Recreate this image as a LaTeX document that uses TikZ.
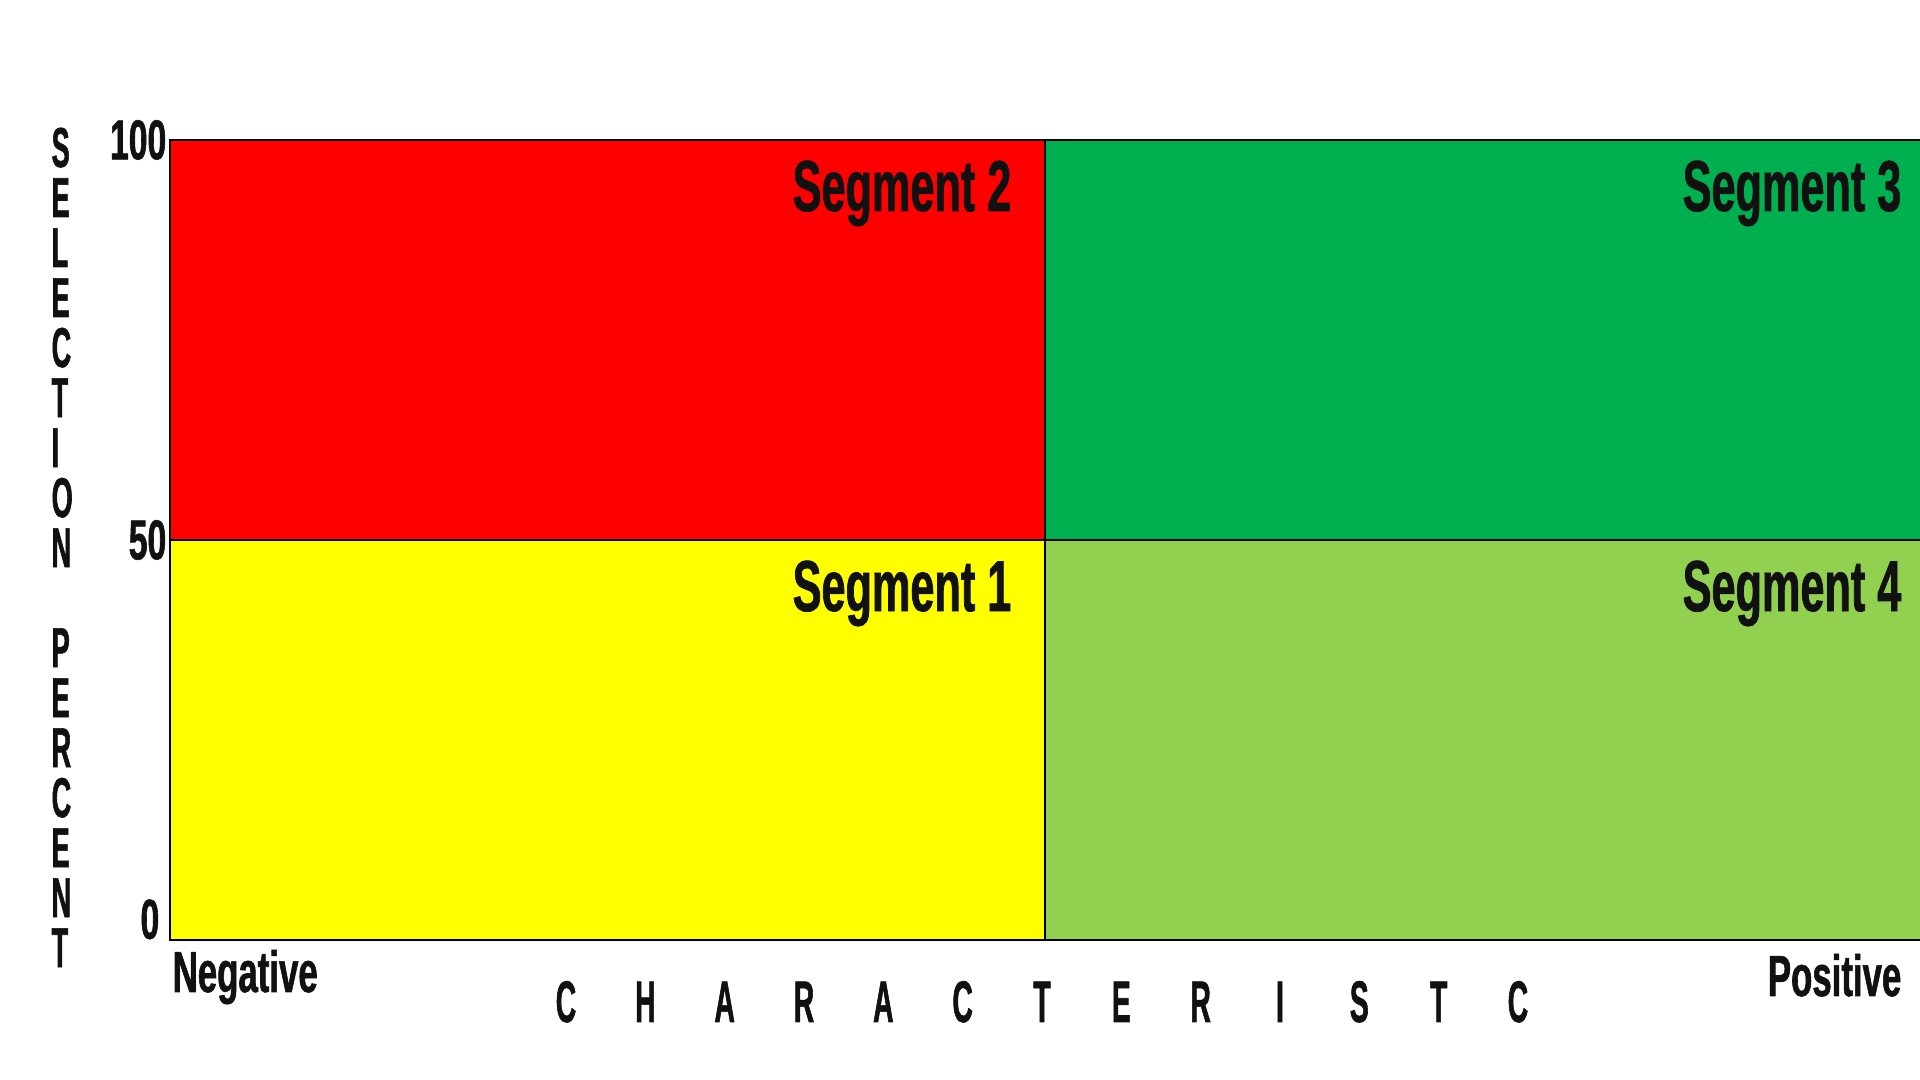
\documentclass[tikz,border=0pt]{standalone}
\usepackage{fontspec}
\usepackage{xcolor}
\usepackage{tikz}
\usetikzlibrary{positioning}
\newfontfamily\segfont[FakeStretch=0.6,FakeBold=1]{Liberation Sans}
\newfontfamily\axisfont[FakeStretch=0.48,FakeBold=1]{Liberation Sans}
\definecolor{segred}{RGB}{255,0,0}
\definecolor{seggreen}{RGB}{0,176,80}
\definecolor{seglime}{RGB}{146,208,80}
\definecolor{segyellow}{RGB}{255,255,0}
\definecolor{inkdark}{RGB}{17,17,17}
\tikzset{
  cell/.style={rectangle, draw=black, line width=0.5pt, inner sep=0pt,
    outer sep=0pt, minimum width=8.75cm, minimum height=4cm},
  widecell/.style={cell, minimum width=8.9cm},
  seglabel/.style={inner sep=0pt, text=inkdark,
    font=\segfont\bfseries\fontsize{20.5}{24}\selectfont},
  ticklabel/.style={inner sep=0pt, text=inkdark,
    font=\segfont\bfseries\fontsize{16}{19}\selectfont},
  endlabel/.style={inner sep=0pt, text=inkdark,
    font=\segfont\bfseries\fontsize{16.5}{20}\selectfont},
  ytitle/.style={inner sep=0pt, text=inkdark, align=left,
    font=\axisfont\bfseries\fontsize{16}{14.23pt}\selectfont},
  axisletter/.style={inner sep=0pt, text=inkdark,
    font=\axisfont\bfseries\fontsize{16.7}{20}\selectfont}
}

\begin{document}
\begin{tikzpicture}
  \useasboundingbox (0,0) rectangle (19.2,10.8);

  % quadrants
  \node[cell, fill=segyellow, anchor=south west] (seg1) at (1.7,1.4) {};
  \node[cell, fill=segred, above=0pt of seg1] (seg2) {};
  \node[widecell, fill=seglime, right=0pt of seg1] (seg4) {};
  \node[widecell, fill=seggreen, above=0pt of seg4] (seg3) {};

  \node[seglabel, below left=0.2cm and 0.33cm of seg1.north east] (lbl1) {Segment 1};
  \node[seglabel, below left=0.2cm and 0.33cm of seg2.north east] (lbl2) {Segment 2};
  \node[seglabel, below left=0.2cm and 0.33cm of seg3.north east] (lbl3) {Segment 3};
  \node[seglabel, below left=0.2cm and 0.33cm of seg4.north east] (lbl4) {Segment 4};

  % y axis
  \node[ticklabel, left=0.03cm of seg2.north west] (t100) {100};
  \node[ticklabel, left=0.03cm of seg1.north west] (t50) {50};
  \node[ticklabel, above left=0cm and 0.1cm of seg1.south west] (t0) {0};
  \node[ytitle, anchor=north west] (ylbl) at (0.51,9.53)
    {S\\E\\L\\E\\C\\T\\I\\O\\N\\[0.5cm]P\\E\\R\\C\\E\\N\\T};

  % x axis
  \node[endlabel, anchor=base west] (neg) at (1.72,0.88) {Negative};
  \node[endlabel, anchor=base east] (pos) at (19.02,0.84) {Positive};
  \foreach \ch [count=\i] in {C,H,A,R,A,C,T,E,R,I,S,T,C}
    \node[axisletter, anchor=base] (xl\i) at ({5.66+0.7933*(\i-1)},0.58) {\ch};
\end{tikzpicture}
\end{document}
